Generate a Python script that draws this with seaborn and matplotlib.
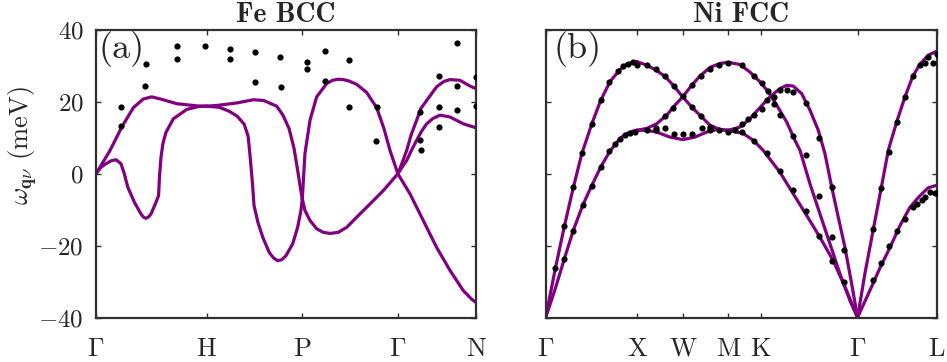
import pandas as pd
import seaborn as sns
import matplotlib.pyplot as plt

sns.set_style("ticks")
plt.rcParams['font.family'] = ['cmr10']
plt.rcParams['mathtext.fontset'] = 'cm'
plt.rcParams['axes.unicode_minus'] = False
plt.rcParams['axes.formatter.use_mathtext'] = True

PURPLE = '#800080'

# ---- Fe BCC, path Gamma-H-P-Gamma-N (path length units), energies in meV
fe_ticks = [0, 1.0, 1.866, 2.732, 3.439]
fe_labels = [r'$\Gamma$', 'H', 'P', r'$\Gamma$', 'N']

fe_a1_k = [0, 0.127, 0.233, 0.338, 0.428, 0.504, 0.595, 0.730, 0.941, 1.0, 1.092, 1.273, 1.425,
           1.516, 1.636, 1.692, 1.747, 1.792, 1.828, 1.851, 1.867]
fe_a1_E = [0, 6.5, 13.0, 18.4, 20.8, 21.4, 20.7, 19.5, 18.8, 18.8, 19.0, 19.7, 20.6,
           20.4, 18.8, 16.3, 12.6, 7.1, 0.4, -4.1, -7.0]

fe_b1_k = [0, 0.045, 0.090, 0.136, 0.181, 0.226, 0.256, 0.287, 0.347, 0.407, 0.430, 0.452, 0.475,
           0.498, 0.543, 0.566, 0.575, 0.588, 0.606, 0.633, 0.700, 0.821, 0.941, 1.0]
fe_b1_E = [0, 1.8, 2.8, 3.6, 3.9, 2.8, 0.0, -3.7, -7.9, -11.2, -12.1, -12.4, -12.0,
           -11.2, -7.9, -6.1, -0.5, 4.5, 8.5, 11.5, 15.3, 17.9, 18.8, 18.8]

fe_b2_k = [1.0, 1.115, 1.205, 1.278, 1.341, 1.377, 1.394, 1.416, 1.430, 1.466, 1.511, 1.568, 1.606,
           1.644, 1.682, 1.719, 1.780, 1.825, 1.855, 1.867]
fe_b2_E = [18.8, 18.5, 17.4, 16.0, 13.8, 10.4, 5.1, -2.7, -8.8, -13.6, -17.8, -21.9, -23.4,
           -24.2, -23.9, -22.8, -19.5, -14.9, -10.2, -7.0]

fe_a2_k = [1.867, 1.891, 1.937, 1.997, 2.088, 2.140, 2.190, 2.240, 2.290, 2.359, 2.450, 2.540, 2.606,
           2.661, 2.732, 2.842, 2.962, 3.083, 3.204, 3.324, 3.400, 3.439]
fe_a2_E = [-7.0, 5.6, 14.9, 21.4, 25.1, 26.0, 26.3, 26.2, 25.8, 24.9, 22.6, 18.4, 12.6,
           6.5, 0, -5.6, -13.0, -20.5, -26.9, -32.5, -34.9, -35.8]

fe_b3_k = [1.867, 1.891, 1.937, 1.997, 2.057, 2.118, 2.193, 2.269, 2.359, 2.480, 2.600, 2.732]
fe_b3_E = [-7.0, -10.2, -13.0, -15.3, -16.3, -16.6, -16.3, -14.9, -12.1, -8.4, -4.7, 0]

fe_c1_k = [2.732, 2.769, 2.812, 2.851, 2.902, 2.941, 2.993, 3.083, 3.149, 3.204, 3.294, 3.385, 3.439]
fe_c1_E = [0, 2.9, 6.5, 10.7, 14.9, 18.2, 20.4, 24.2, 25.7, 26.2, 26.0, 24.4, 23.7]

fe_c2_k = [2.732, 2.769, 2.812, 2.855, 2.902, 2.946, 2.993, 3.050, 3.113, 3.204, 3.324, 3.439]
fe_c2_E = [0, 1.8, 3.7, 6.5, 9.3, 11.8, 13.9, 15.4, 16.3, 15.8, 13.9, 12.8]

fe_exp_k = [0.226, 0.226, 0.450, 0.441, 0.736, 0.736, 0.990, 1.213, 1.213, 1.442, 1.442, 1.665,
            1.674, 1.907, 1.907, 2.075, 2.069, 2.290, 2.287, 2.540, 2.531, 2.929, 2.934, 2.938,
            3.107, 3.101, 3.101, 3.269, 3.263, 3.266, 3.439, 3.439]
fe_exp_E = [18.6, 13.2, 30.5, 24.4, 35.6, 31.8, 35.5, 34.7, 31.9, 33.9, 25.6, 32.4,
            24.2, 31.0, 29.1, 34.2, 25.7, 31.6, 18.7, 18.7, 9.0, 17.3, 9.5, 6.6,
            27.1, 18.6, 13.0, 36.3, 24.4, 17.7, 26.9, 18.8]

# ---- Ni FCC, path Gamma-X-W-M-K-Gamma-L
ni_ticks = [0, 1.0, 1.5, 2.0, 2.354, 3.414, 4.28]
ni_labels = [r'$\Gamma$', 'X', 'W', 'M', 'K', r'$\Gamma$', 'L']

ni_gx_up_k = [0, 0.105, 0.204, 0.302, 0.397, 0.504, 0.602, 0.704, 0.806, 0.887, 0.959, 1.0]
ni_gx_up_E = [-40, -26.5, -14.7, -3.9, 5.7, 13.8, 20.4, 25.6, 28.8, 30.5, 31.1, 31.2]

ni_gx_lo_k = [0, 0.105, 0.204, 0.302, 0.405, 0.504, 0.605, 0.704, 0.813, 0.887, 0.959, 1.0]
ni_gx_lo_E = [-40, -32.0, -23.7, -15.8, -8.8, -3.3, 2.0, 6.3, 9.8, 11.2, 11.9, 12.1]

ni_xm_dn_k = [1.0, 1.106, 1.197, 1.306, 1.397, 1.500, 1.598, 1.708, 1.799, 1.908, 2.0]
ni_xm_dn_E = [31.2, 30.2, 29.0, 27.1, 24.6, 21.4, 18.6, 15.8, 13.5, 12.3, 12.1]

ni_xm_up_k = [1.0, 1.106, 1.215, 1.325, 1.416, 1.500, 1.598, 1.689, 1.799, 1.908, 2.0]
ni_xm_up_E = [12.1, 12.6, 13.9, 16.3, 19.1, 21.4, 24.6, 27.2, 29.6, 30.7, 31.0]

ni_xm_dip_k = [1.0, 1.106, 1.215, 1.361, 1.500, 1.634, 1.762, 1.871, 2.0]
ni_xm_dip_E = [12.1, 12.1, 11.6, 10.2, 9.5, 10.2, 11.6, 12.3, 12.1]

ni_mg_top_k = [2.0, 2.127, 2.236, 2.345, 2.437, 2.529, 2.638, 2.729, 2.784, 2.893, 3.003, 3.112,
               3.222, 3.331, 3.414]
ni_mg_top_E = [31.0, 30.4, 28.3, 25.6, 22.8, 19.1, 14.4, 9.3, 6.5, -2.8, -11.2, -19.5,
               -27.9, -35.3, -40]

ni_mg_low_k = [2.0, 2.163, 2.273, 2.382, 2.565, 2.711, 2.857, 3.003, 3.148, 3.295, 3.414]
ni_mg_low_E = [12.1, 11.2, 9.3, 6.5, 0.4, -5.6, -11.6, -17.7, -24.2, -32.6, -40]

ni_mg_pk_k = [2.0, 2.127, 2.236, 2.345, 2.455, 2.564, 2.638, 2.711, 2.802, 2.893, 2.984, 3.057,
              3.131, 3.203, 3.276, 3.350, 3.414]
ni_mg_pk_E = [12.1, 13.0, 15.3, 18.4, 21.4, 23.7, 24.6, 24.4, 22.3, 17.7, 12.1, 5.6,
              -3.7, -12.1, -20.5, -30.7, -40]

ni_gl_up_k = [3.414, 3.495, 3.586, 3.678, 3.750, 3.842, 3.933, 4.018, 4.097, 4.188, 4.28]
ni_gl_up_E = [-40, -27.7, -15.5, -3.3, 6.5, 14.4, 21.4, 27.1, 30.5, 33.0, 34.1]

ni_gl_lo_k = [3.414, 3.586, 3.659, 3.769, 3.879, 3.988, 4.097, 4.188, 4.28]
ni_gl_lo_E = [-40, -30.4, -26.2, -20.5, -14.4, -9.3, -6.1, -3.9, -3.2]

ni_exp_k = [0.105, 0.204, 0.302, 0.400, 0.504, 0.602, 0.696, 0.795, 0.849, 0.904, 0.959, 1.003,
            0.204, 0.302, 0.405, 0.504, 0.602, 0.696, 0.759, 0.813, 0.868, 0.923, 0.977,
            1.106, 1.204, 1.306, 1.404, 1.500, 1.598, 1.700, 1.799, 1.900, 1.999,
            1.106, 1.207, 1.207, 1.306, 1.404, 1.506, 1.598, 1.708, 1.799, 1.799, 2.072, 2.146,
            1.306, 1.397, 1.598, 1.700, 1.799, 1.900, 1.999, 2.146,
            2.284, 2.365, 2.430, 2.499, 2.565, 2.711, 2.850, 2.989, 3.131, 3.269,
            2.146, 2.218, 2.280, 2.365, 2.426, 2.499, 2.565, 2.638, 2.704, 2.850, 2.992, 3.131,
            2.280, 2.426, 2.565, 2.704, 2.850, 2.989, 3.131, 3.269,
            3.586, 3.674, 3.761, 3.842, 3.933, 4.018, 4.097, 4.152, 4.188, 4.236, 4.28,
            3.586, 3.670, 3.761, 3.842, 3.933, 4.018, 4.061, 4.116, 4.152, 4.207, 4.262, 4.28]
ni_exp_E = [-26.3, -14.6, -3.8, 5.8, 13.8, 20.4, 25.4, 28.6, 29.9, 30.5, 31.1, 30.4,
            -23.7, -15.8, -8.6, -3.4, 2.0, 6.4, 8.2, 9.6, 10.7, 11.3, 11.6,
            30.2, 29.1, 27.2, 24.5, 21.5, 18.6, 16.0, 13.0, 12.3, 11.6,
            12.3, 12.8, 12.1, 12.7, 11.0, 11.0, 11.0, 12.6, 12.8, 12.1, 12.3, 11.6,
            16.0, 18.4, 24.6, 27.2, 29.1, 30.4, 30.7, 30.4,
            27.1, 25.3, 23.0, 21.4, 16.3, 10.4, 5.1, -6.1, -17.7, -21.2,
            13.9, 15.3, 16.3, 18.1, 20.4, 19.5, 23.2, 23.2, 22.8, 19.7, 9.9, -3.7,
            9.1, 5.7, 0.8, -4.4, -10.5, -17.2, -24.2, -30.0,
            -15.3, -4.1, 6.0, 14.4, 21.4, 27.1, 30.2, 30.9, 32.5, 30.7, 33.3,
            -29.6, -24.8, -20.0, -15.8, -12.6, -9.3, -8.4, -7.3, -6.5, -5.1, -5.4, -5.4]


def bands(branches):
    rows = []
    for name, (ks, es) in branches.items():
        rows += [(name, k, e) for k, e in zip(ks, es)]
    return pd.DataFrame(rows, columns=['branch', 'k', 'E'])


fe_df = bands({'a1': (fe_a1_k, fe_a1_E), 'b1': (fe_b1_k, fe_b1_E), 'b2': (fe_b2_k, fe_b2_E),
               'a2': (fe_a2_k, fe_a2_E), 'b3': (fe_b3_k, fe_b3_E), 'c1': (fe_c1_k, fe_c1_E),
               'c2': (fe_c2_k, fe_c2_E)})
ni_df = bands({'gxu': (ni_gx_up_k, ni_gx_up_E), 'gxl': (ni_gx_lo_k, ni_gx_lo_E),
               'xmd': (ni_xm_dn_k, ni_xm_dn_E), 'xmu': (ni_xm_up_k, ni_xm_up_E),
               'xmp': (ni_xm_dip_k, ni_xm_dip_E), 'mgt': (ni_mg_top_k, ni_mg_top_E),
               'mgl': (ni_mg_low_k, ni_mg_low_E), 'mgp': (ni_mg_pk_k, ni_mg_pk_E),
               'glu': (ni_gl_up_k, ni_gl_up_E), 'gll': (ni_gl_lo_k, ni_gl_lo_E)})

fig = plt.figure(figsize=(9.47, 3.62), dpi=100)
ax1 = fig.add_axes([0.1014, 0.1229, 0.4012, 0.7942])
ax2 = fig.add_axes([0.5762, 0.1229, 0.4129, 0.7942])

panels = [(ax1, fe_df, fe_exp_k, fe_exp_E, fe_ticks, fe_labels, 'Fe BCC', '(a)', 0.006),
          (ax2, ni_df, ni_exp_k, ni_exp_E, ni_ticks, ni_labels, 'Ni FCC', '(b)', 0.021)]

for ax, df, ek, ee, ticks, labels, title, tag, tx in panels:
    sns.lineplot(data=df, x='k', y='E', units='branch', estimator=None, sort=False,
                 color=PURPLE, lw=2.3, ax=ax)
    sns.scatterplot(x=ek, y=ee, color='black', s=20, linewidth=0, ax=ax, zorder=3)
    ax.set_xlim(ticks[0], ticks[-1])
    ax.set_ylim(-40, 40)
    ax.set_xticks(ticks)
    ax.set_xticklabels(labels)
    ax.set_yticks([-40, -20, 0, 20, 40])
    ax.set_xlabel('')
    ax.set_ylabel('')
    for s in ax.spines.values():
        s.set_linewidth(1.6)
        s.set_color('#303030')
    ax.tick_params(direction='in', top=True, right=True, length=3.5, width=1, color='#303030',
                   labelcolor='#262626')
    ax.tick_params(axis='x', pad=14, labelsize=19)
    ax.tick_params(axis='y', pad=9, labelsize=18)
    ax.set_title(title, fontfamily='cmb10', fontsize=20, pad=6)
    ax.text(tx, 0.995, tag, transform=ax.transAxes, ha='left', va='top', fontsize=26)

ax2.set_yticklabels([])
ax1.set_ylabel(r'$\omega_{\mathbf{q}\nu}$ (meV)', fontsize=19)
ax1.yaxis.set_label_coords(-0.15, 0.6)

fig.savefig('out.png', dpi=100)
